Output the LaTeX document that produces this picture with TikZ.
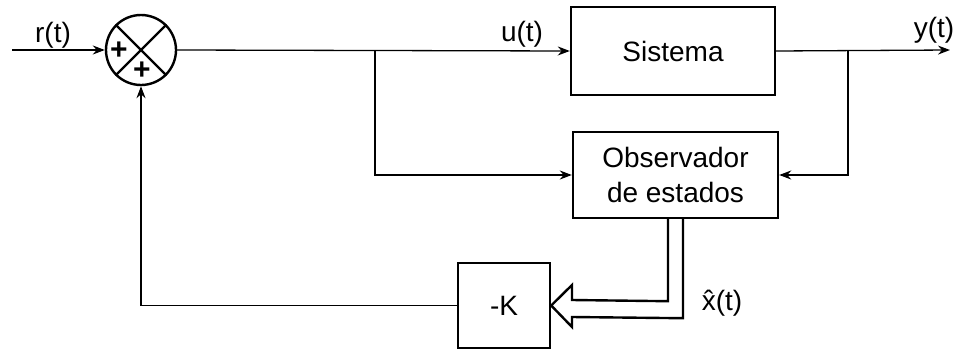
\documentclass[tikz,border=0pt]{standalone}
\usepackage{fontspec}
\setmainfont{Liberation Sans}
\usetikzlibrary{arrows.meta,calc}
\begin{document}
\begin{tikzpicture}[x=1pt,y=-1pt,
  blk/.style={draw,line width=2.4pt,minimum width=#1,inner sep=0pt,align=center,font=\fontsize{28}{31}\selectfont},
  lbl/.style={font=\fontsize{28}{31}\selectfont,inner sep=0pt},
  pls/.style={font=\fontsize{30}{30}\selectfont\bfseries,inner sep=0pt},
  wire/.style={line width=1.3pt},
  arr/.style={wire,-{Stealth[length=12pt,width=9pt]}}]
\useasboundingbox (0,0) rectangle (956,351);
\node[draw,circle,line width=2.4pt,minimum size=70pt,inner sep=0pt] (sum) at (141,50) {};
\draw[line width=2.4pt] (sum.north west) -- (sum.south east) (sum.north east) -- (sum.south west);
\node[pls] (p1) at (119,51) {+};
\node[pls] (p2) at (142,71) {+};
\node[blk=204pt,minimum height=88pt] (sis) at (673,51) {Sistema};
\node[blk=205pt,minimum height=86pt] (obs) at (675.5,175) {Observador\\[4pt]de estados};
\node[blk=92pt,minimum height=85pt] (k) at (504,305.5) {-K};
\coordinate (in) at (12,50);
\coordinate (out) at (950,50);
\coordinate (bu) at (375,50);
\coordinate (by) at (848,50);
\draw[arr] (in) -- (sum.west);
\node[lbl] (rl) at (53,35) {r(t)};
\draw[arr] (sum.east) -- (sis.west);
\node[lbl] (ul) at (522,34) {u(t)};
\draw[arr] (sis.east) -- (out);
\node[lbl] (yl) at (934,30) {y(t)};
\draw[arr] (bu) |- (obs.west);
\draw[arr] (by) |- (obs.east);
\draw[arr] (k.west) -| (sum.south);
\draw[line width=2.4pt,line join=miter]
  ($(obs.south)+(-7.5,0)$) -- ++(0,82) -- (572,300) -- (572,285) -- (k.east)
  -- (572,327) -- (572,317) -- ($(obs.south)+(7.5,99)$) -- ($(obs.south)+(7.5,0)$);
\node[lbl] (xl) at (722,303) {\^{x}(t)};
\end{tikzpicture}
\end{document}
